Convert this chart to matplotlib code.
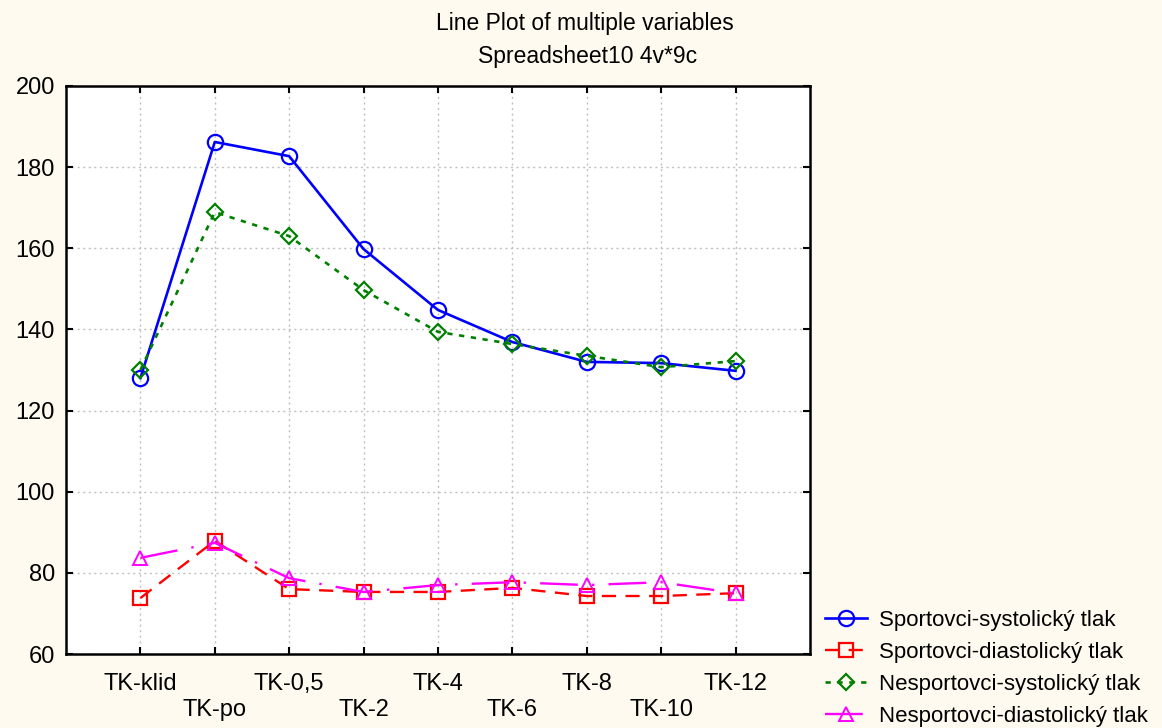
import matplotlib
matplotlib.use("Agg")
import matplotlib.pyplot as plt

# chart data
categories = ["TK-klid", "TK-po", "TK-0,5", "TK-2", "TK-4", "TK-6", "TK-8", "TK-10", "TK-12"]
sport_sys = [128.0, 186.2, 182.7, 159.8, 144.8, 136.9, 132.0, 131.7, 129.8]
sport_dia = [73.8, 87.9, 76.0, 75.3, 75.3, 76.3, 74.3, 74.3, 75.0]
nesport_sys = [130.0, 168.9, 163.0, 149.7, 139.4, 136.4, 133.5, 130.7, 132.2]
nesport_dia = [83.7, 87.4, 78.7, 75.3, 77.0, 77.7, 77.0, 77.7, 75.0]
series_names = ["Sportovci-systolický tlak", "Sportovci-diastolický tlak",
                "Nesportovci-systolický tlak", "Nesportovci-diastolický tlak"]
y_ticks = [60, 80, 100, 120, 140, 160, 180, 200]

plt.rcParams['font.family'] = ['Liberation Sans', 'DejaVu Sans']
bg = '#fffaf0'

fig = plt.figure(figsize=(11.62, 7.28), dpi=100, facecolor=bg)
ax = fig.add_axes([0.0568, 0.1016, 0.6402, 0.7803])
ax.set_facecolor('white')

x = list(range(len(categories)))
ax.plot(x, sport_sys, color='#0000ff', lw=1.9, ls='-', marker='o', ms=11,
        mfc='none', mec='#0000ff', mew=1.6, label=series_names[0])
ax.plot(x, sport_dia, color='#ff0000', lw=1.7, ls=(0, (6, 4)), marker='s', ms=10,
        mfc='none', mec='#ff0000', mew=1.6, label=series_names[1])
ax.plot(x, nesport_sys, color='#008000', lw=1.9, ls=(0, (2, 2.5)), marker='D', ms=8,
        mfc='none', mec='#008000', mew=1.6, label=series_names[2])
ax.plot(x, nesport_dia, color='#ff00ff', lw=1.7, ls=(0, (16, 6, 1, 6)), marker='^', ms=10,
        mfc='none', mec='#ff00ff', mew=1.4, label=series_names[3])

ax.set_xlim(-1, 9)
ax.set_ylim(60, 200)
ax.set_yticks(y_ticks)
ax.set_xticks(x)
ax.set_xticklabels([c if i % 2 == 0 else "\n" + c for i, c in enumerate(categories)])
ax.tick_params(axis='both', direction='in', length=5, width=1.5, top=True, right=True,
               labelsize=17)
ax.tick_params(axis='x', pad=14)
ax.tick_params(axis='y', pad=8)
ax.grid(True, color='#c0c0c0', ls=(0, (1.5, 2.5)), lw=1.0)
for s in ax.spines.values():
    s.set_linewidth(1.8)
    s.set_color('black')

fig.text(0.503, 0.968, "Line Plot of multiple variables", ha='center', va='center', fontsize=16.5)
fig.text(0.506, 0.923, "Spreadsheet10 4v*9c", ha='center', va='center', fontsize=16.5)

leg = fig.legend(loc='lower left', bbox_to_anchor=(0.693, -0.026), frameon=False,
                 fontsize=16, handlelength=1.9, labelspacing=0.5, handletextpad=0.5)

fig.savefig("out.png", dpi=100, facecolor=bg)
